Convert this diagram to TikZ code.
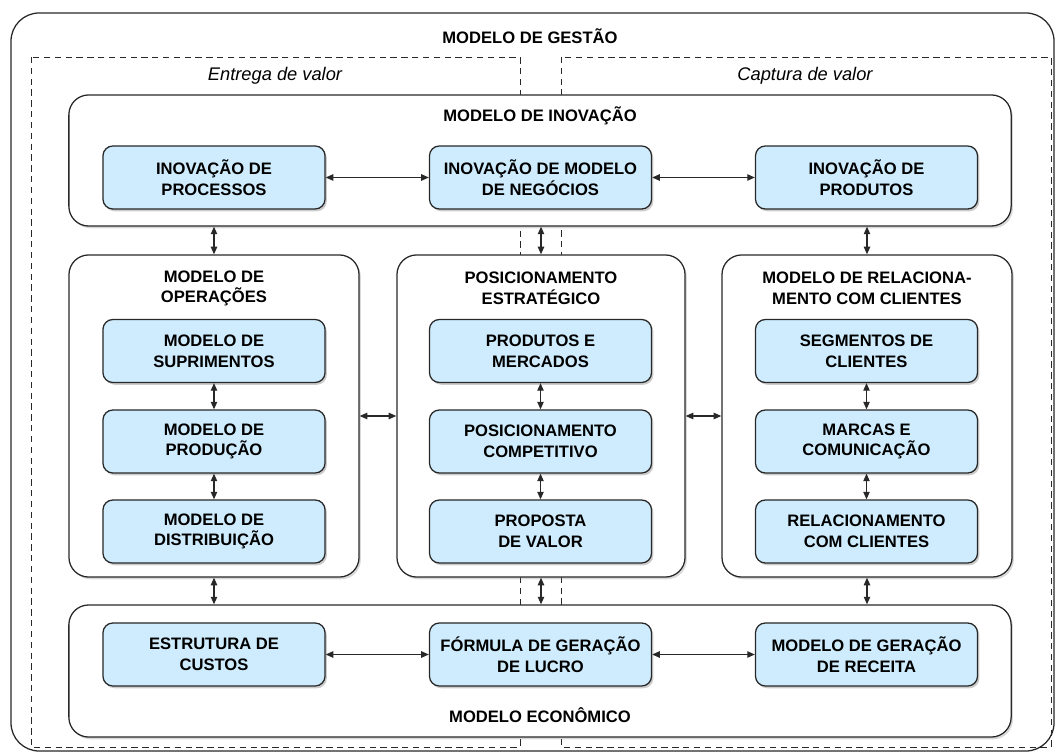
\documentclass[tikz,border=0pt]{standalone}
\usepackage{fontspec}
\setmainfont{Liberation Sans}
\usetikzlibrary{arrows.meta,positioning,shadows}
\definecolor{boxblue}{RGB}{206,236,253}
\definecolor{lineg}{RGB}{40,40,40}

\begin{document}
\begin{tikzpicture}[x=0.025cm, y=-0.025cm,
    every node/.style={font=\bfseries\fontsize{11.8}{14.8}\selectfont, text=black, align=center},
    item/.style={rectangle, rounded corners=7pt, draw=lineg, line width=0.9pt, fill=boxblue,
                minimum width=5.55cm, minimum height=1.575cm, inner sep=0pt,
                drop shadow={shadow xshift=1.3pt, shadow yshift=-1.6pt, opacity=0.4}},
    group/.style={rectangle, rounded corners=14pt, draw=lineg, line width=0.9pt, fill=white, inner sep=0pt,
                drop shadow={shadow xshift=1.3pt, shadow yshift=-1.6pt, opacity=0.3}},
    zone/.style={draw=lineg, line width=0.7pt, dash pattern=on 4.5pt off 3.2pt},
    side/.style={font=\itshape\fontsize{13}{15}\selectfont},
    arr/.style={{Triangle[length=1.9mm,width=1.6mm]}-{Triangle[length=1.9mm,width=1.6mm]}, lineg, line width=0.85pt}]
\useasboundingbox (0,0) rectangle (1056,753);
% outer frame and the two value zones
\draw[lineg, line width=0.9pt, rounded corners=20pt] (11,13) rectangle (1054,751);
\node (gestao) at (530,36) {MODELO DE GESTÃO};
\draw[zone] (31,57) rectangle (520,747);
\draw[zone] (561,57) rectangle (1051,747);
\node[side] (entrega) at (275,76) {Entrega de valor};
\node[side] (captura) at (805,76) {Captura de valor};
% containers
\node[group, minimum width=23.55cm, minimum height=3.275cm] (inov) at (540,160.5) {};
\node[group, minimum width=7.25cm, minimum height=8.05cm] (ops) at (214,416) {};
\node[group, minimum width=7.2cm, minimum height=8.05cm] (pos) at (541,416) {};
\node[group, minimum width=7.25cm, minimum height=8.05cm] (rel) at (867,416) {};
\node[group, minimum width=23.55cm, minimum height=3.3cm] (econ) at (540,671) {};
\node (tinov) at (540,116) {MODELO DE INOVAÇÃO};
\node (tops) at (214,288.5) {MODELO DE\\OPERAÇÕES};
\node (tpos) at (541,288.5) {POSICIONAMENTO\\ESTRATÉGICO};
\node (trel) at (867,288.5) {MODELO DE RELACIONA-\\MENTO COM CLIENTES};
\node (tecon) at (540,715) {MODELO ECONÔMICO};
% innovation row
\node[item] (iproc) at (214,177.5) {INOVAÇÃO DE\\PROCESSOS};
\node[item] (ineg) at (540.5,177.5) {INOVAÇÃO DE MODELO\\DE NEGÓCIOS};
\node[item] (iprod) at (866.5,177.5) {INOVAÇÃO DE\\PRODUTOS};
% operations
\node[item] (supr) at (214,351) {MODELO DE\\SUPRIMENTOS};
\node[item] (prodc) at (214,441.5) {MODELO DE\\PRODUÇÃO};
\node[item] (distr) at (214,531.5) {MODELO DE\\DISTRIBUIÇÃO};
% positioning
\node[item] (merc) at (540.5,351) {PRODUTOS E\\MERCADOS};
\node[item] (comp) at (540.5,441.5) {POSICIONAMENTO\\COMPETITIVO};
\node[item] (prop) at (540.5,531.5) {PROPOSTA\\DE VALOR};
% relationship
\node[item] (segm) at (866.5,351) {SEGMENTOS DE\\CLIENTES};
\node[item] (marc) at (866.5,441.5) {MARCAS E\\COMUNICAÇÃO};
\node[item] (relc) at (866.5,531.5) {RELACIONAMENTO\\COM CLIENTES};
% economic row
\node[item] (cust) at (214,654.5) {ESTRUTURA DE\\CUSTOS};
\node[item] (lucr) at (540.5,654.5) {FÓRMULA DE GERAÇÃO\\DE LUCRO};
\node[item] (rece) at (866.5,654.5) {MODELO DE GERAÇÃO\\DE RECEITA};
% connectors
\draw[arr] (iproc)--(ineg); \draw[arr] (ineg)--(iprod);
\draw[arr] (cust)--(lucr); \draw[arr] (lucr)--(rece);
\draw[arr] (ops)--(pos); \draw[arr] (pos)--(rel);
\draw[arr] (supr)--(prodc); \draw[arr] (prodc)--(distr);
\draw[arr] (merc)--(comp); \draw[arr] (comp)--(prop);
\draw[arr] (segm)--(marc); \draw[arr] (marc)--(relc);
\foreach \g in {ops,pos,rel}{
  \draw[arr] (\g.north |- inov.south)--(\g.north);
  \draw[arr] (\g.south)--(\g.south |- econ.north);
}
\end{tikzpicture}
\end{document}
